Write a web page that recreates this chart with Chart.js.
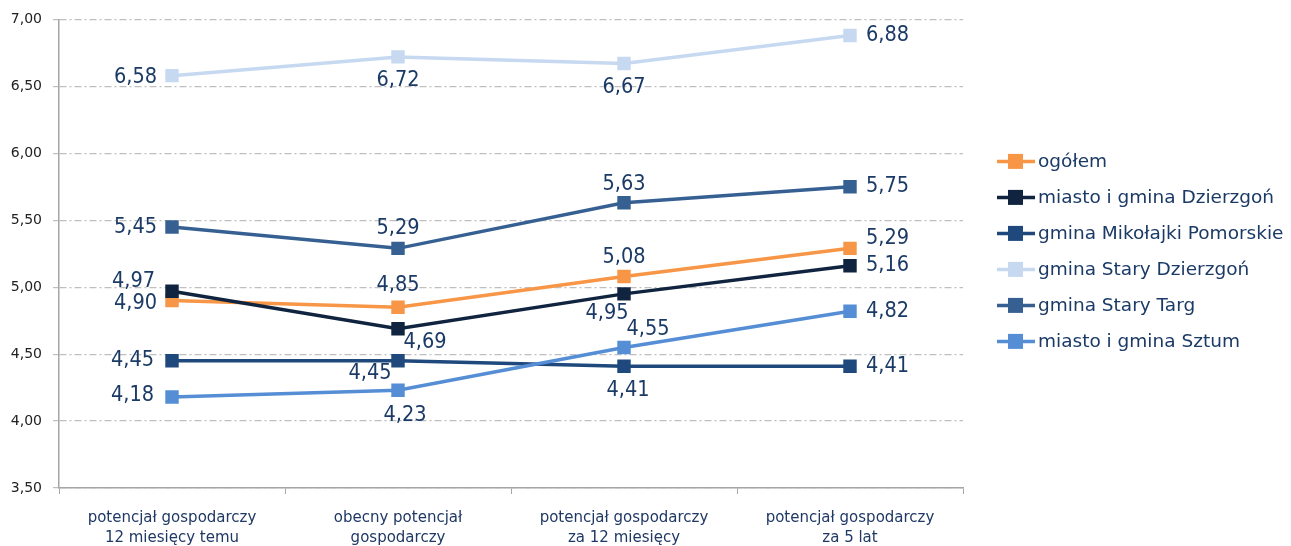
<!DOCTYPE html>
<html>
<head>
<meta charset="utf-8">
<script src="https://cdn.jsdelivr.net/npm/chart.js@4.4.1/dist/chart.umd.min.js"></script>
<style>
    body { margin: 0; background: #fff; }
    #wrap { width: 1291px; height: 546px; }
</style>
</head>
<body>
<div id="wrap"><canvas id="potencjalChart" width="1291" height="546"></canvas></div>
<script>
// categories
const categories = [
    ["potencjał gospodarczy", "12 miesięcy temu"],
    ["obecny potencjał", "gospodarczy"],
    ["potencjał gospodarczy", "za 12 miesięcy"],
    ["potencjał gospodarczy", "za 5 lat"]
];

// series values
const ogolem = [4.90, 4.85, 5.08, 5.29];
const dzierzgonMiasto = [4.97, 4.69, 4.95, 5.16];
const mikolajki = [4.45, 4.45, 4.41, 4.41];
const staryDzierzgon = [6.58, 6.72, 6.67, 6.88];
const staryTarg = [5.45, 5.29, 5.63, 5.75];
const sztum = [4.18, 4.23, 4.55, 4.82];

// y axis ticks
const yMin = 3.5;
const yMax = 7.0;
const yStep = 0.5;

const FONT = "'DejaVu Sans', Verdana, sans-serif";
const LABEL_FONT = "21.5px 'DejaVu Sans Condensed', 'DejaVu Sans', sans-serif";
const LABEL_COLOR = "#1B3A66";

// where each value label sits next to its point: [align, dx, dy]
// L = text ends left of point, R = text starts right of point, C = centred
const labelPlace = [
    [["L", -15, 3], ["C", 0, -22], ["C", 0, -19], ["R", 16, -10]],
    [["L", -17, -10], ["C", 27, 14], ["C", -17, 20], ["R", 16, 0]],
    [["L", -18, 0], ["C", -28, 13], ["C", 4, 24], ["R", 16, 0]],
    [["L", -15, 2], ["C", 0, 24], ["C", 0, 24], ["R", 16, 0]],
    [["L", -15, 0], ["C", 0, -20], ["C", 0, -18], ["R", 16, 0]],
    [["L", -18, -2], ["C", 7, 25], ["C", 24, -18], ["R", 16, 0]]
];

function makeSeries(label, data, color, idx) {
    return {
        label: label,
        data: data,
        borderColor: color,
        backgroundColor: color,
        borderWidth: 3.5,
        pointStyle: "rect",
        pointRadius: 9.5,
        pointHoverRadius: 9.5,
        pointBorderWidth: 0,
        tension: 0,
        order: 10 - idx // later series drawn on top, like in Excel
    };
}

const valueLabels = {
    id: "valueLabels",
    afterDatasetsDraw(chart) {
        const ctx = chart.ctx;
        ctx.save();
        ctx.font = LABEL_FONT;
        ctx.fillStyle = LABEL_COLOR;
        ctx.textBaseline = "middle";
        chart.data.datasets.forEach((ds, i) => {
            const meta = chart.getDatasetMeta(i);
            meta.data.forEach((pt, j) => {
                const p = labelPlace[i][j];
                ctx.textAlign = p[0] === "L" ? "right" : (p[0] === "R" ? "left" : "center");
                const txt = ds.data[j].toFixed(2).replace(".", ",");
                ctx.fillText(txt, pt.x + p[1], pt.y + p[2]);
            });
        });
        ctx.restore();
    }
};

// legend in Excel style: line with square marker
const sideLegend = {
    id: "sideLegend",
    afterDraw(chart) {
        const ctx = chart.ctx;
        const area = chart.chartArea;
        const x0 = area.right + 34;
        ctx.save();
        ctx.font = "18.5px " + FONT;
        ctx.textBaseline = "middle";
        ctx.textAlign = "left";
        chart.data.datasets.forEach((ds, i) => {
            const y = area.top + 142 + i * 36;
            ctx.strokeStyle = ds.borderColor;
            ctx.lineWidth = 3.5;
            ctx.beginPath();
            ctx.moveTo(x0, y);
            ctx.lineTo(x0 + 38, y);
            ctx.stroke();
            ctx.fillStyle = ds.borderColor;
            ctx.fillRect(x0 + 11, y - 7.5, 15, 15);
            ctx.fillStyle = LABEL_COLOR;
            ctx.fillText(ds.label, x0 + 41, y + 1);
        });
        ctx.restore();
    }
};

new Chart(document.getElementById("potencjalChart"), {
    type: "line",
    data: {
        labels: categories,
        datasets: [
            makeSeries("ogółem", ogolem, "#F79646", 0),
            makeSeries("miasto i gmina Dzierzgoń", dzierzgonMiasto, "#10243F", 1),
            makeSeries("gmina Mikołajki Pomorskie", mikolajki, "#1F497D", 2),
            makeSeries("gmina Stary Dzierzgoń", staryDzierzgon, "#C6D9F1", 3),
            makeSeries("gmina Stary Targ", staryTarg, "#376092", 4),
            makeSeries("miasto i gmina Sztum", sztum, "#558ED5", 5)
        ]
    },
    options: {
        responsive: false,
        animation: false,
        devicePixelRatio: 1,
        layout: {
            padding: { top: 19, right: 328, left: 0, bottom: 0 }
        },
        plugins: {
            legend: { display: false },
            tooltip: { enabled: false }
        },
        scales: {
            x: {
                offset: true,
                grid: {
                    offset: true,
                    drawOnChartArea: false,
                    color: "#A6A6A6",
                    tickLength: 6
                },
                border: { color: "#A6A6A6", width: 1.5 },
                ticks: {
                    color: "#1F3864",
                    font: { family: FONT, size: 15, lineHeight: 1.33 },
                    padding: 14,
                    maxRotation: 0,
                    autoSkip: false
                },
                afterFit(scale) { scale.height = 58; }
            },
            y: {
                min: yMin,
                max: yMax,
                grid: {
                    color: "#BFBFBF",
                    lineWidth: 1.2,
                    tickLength: 6,
                    tickBorderDash: [7, 3, 2, 3]
                },
                border: { color: "#A6A6A6", width: 1.5, dash: [7, 3, 2, 3] },
                ticks: {
                    stepSize: yStep,
                    color: "#222222",
                    font: { family: FONT, size: 14 },
                    padding: 11,
                    callback: (v) => v.toFixed(2).replace(".", ",")
                },
                afterFit(scale) { scale.width = 59; }
            }
        }
    },
    plugins: [valueLabels, sideLegend]
});
</script>
</body>
</html>
